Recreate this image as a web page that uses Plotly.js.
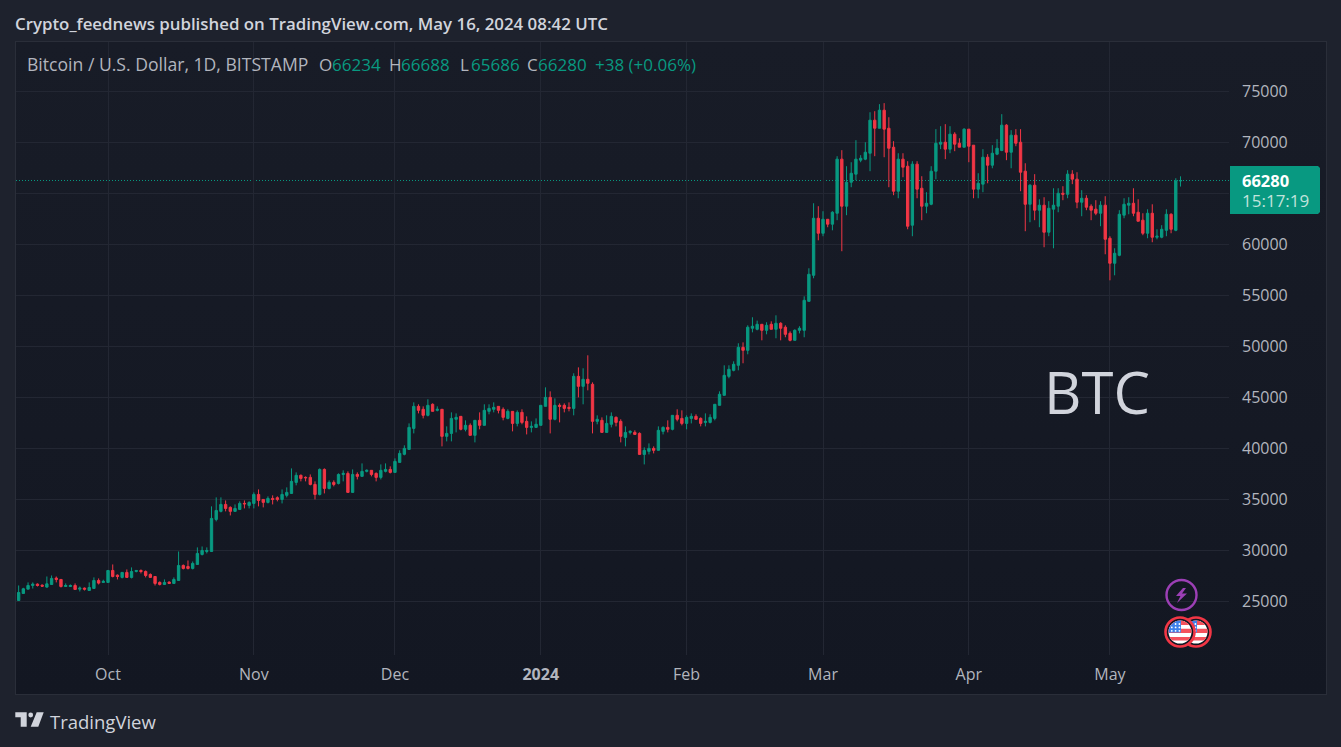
<!DOCTYPE html>
<html>
<head>
<meta charset="utf-8">
<script src="https://cdn.plot.ly/plotly-3.0.1.min.js"></script>
<style>
html,body{margin:0;padding:0;width:1341px;height:747px;overflow:hidden;background:#1e222d}
#pane{position:absolute;left:15px;top:41px;width:1310px;height:652px;border:1px solid #2a2e39;background:linear-gradient(180deg,#181c27 0%,#131722 100%)}
#chart{position:absolute;left:0;top:0;width:1341px;height:747px}
</style>
</head>
<body>
<div id="pane"></div>
<div id="chart"></div>
<script>
const dates = [
'2023-09-12','2023-09-13','2023-09-14','2023-09-15','2023-09-16','2023-09-17','2023-09-18','2023-09-19','2023-09-20','2023-09-21','2023-09-22','2023-09-23','2023-09-24','2023-09-25','2023-09-26','2023-09-27','2023-09-28','2023-09-29','2023-09-30',
'2023-10-01','2023-10-02','2023-10-03','2023-10-04','2023-10-05','2023-10-06','2023-10-07','2023-10-08','2023-10-09','2023-10-10','2023-10-11','2023-10-12','2023-10-13','2023-10-14','2023-10-15','2023-10-16','2023-10-17','2023-10-18','2023-10-19','2023-10-20','2023-10-21','2023-10-22','2023-10-23','2023-10-24','2023-10-25','2023-10-26','2023-10-27','2023-10-28','2023-10-29','2023-10-30','2023-10-31',
'2023-11-01','2023-11-02','2023-11-03','2023-11-04','2023-11-05','2023-11-06','2023-11-07','2023-11-08','2023-11-09','2023-11-10','2023-11-11','2023-11-12','2023-11-13','2023-11-14','2023-11-15','2023-11-16','2023-11-17','2023-11-18','2023-11-19','2023-11-20','2023-11-21','2023-11-22','2023-11-23','2023-11-24','2023-11-25','2023-11-26','2023-11-27','2023-11-28','2023-11-29','2023-11-30',
'2023-12-01','2023-12-02','2023-12-03','2023-12-04','2023-12-05','2023-12-06','2023-12-07','2023-12-08','2023-12-09','2023-12-10','2023-12-11','2023-12-12','2023-12-13','2023-12-14','2023-12-15','2023-12-16','2023-12-17','2023-12-18','2023-12-19','2023-12-20','2023-12-21','2023-12-22','2023-12-23','2023-12-24','2023-12-25','2023-12-26','2023-12-27','2023-12-28','2023-12-29','2023-12-30','2023-12-31',
'2024-01-01','2024-01-02','2024-01-03','2024-01-04','2024-01-05','2024-01-06','2024-01-07','2024-01-08','2024-01-09','2024-01-10','2024-01-11','2024-01-12','2024-01-13','2024-01-14','2024-01-15','2024-01-16','2024-01-17','2024-01-18','2024-01-19','2024-01-20','2024-01-21','2024-01-22','2024-01-23','2024-01-24','2024-01-25','2024-01-26','2024-01-27','2024-01-28','2024-01-29','2024-01-30','2024-01-31',
'2024-02-01','2024-02-02','2024-02-03','2024-02-04','2024-02-05','2024-02-06','2024-02-07','2024-02-08','2024-02-09','2024-02-10','2024-02-11','2024-02-12','2024-02-13','2024-02-14','2024-02-15','2024-02-16','2024-02-17','2024-02-18','2024-02-19','2024-02-20','2024-02-21','2024-02-22','2024-02-23','2024-02-24','2024-02-25','2024-02-26','2024-02-27','2024-02-28','2024-02-29',
'2024-03-01','2024-03-02','2024-03-03','2024-03-04','2024-03-05','2024-03-06','2024-03-07','2024-03-08','2024-03-09','2024-03-10','2024-03-11','2024-03-12','2024-03-13','2024-03-14','2024-03-15','2024-03-16','2024-03-17','2024-03-18','2024-03-19','2024-03-20','2024-03-21','2024-03-22','2024-03-23','2024-03-24','2024-03-25','2024-03-26','2024-03-27','2024-03-28','2024-03-29','2024-03-30','2024-03-31',
'2024-04-01','2024-04-02','2024-04-03','2024-04-04','2024-04-05','2024-04-06','2024-04-07','2024-04-08','2024-04-09','2024-04-10','2024-04-11','2024-04-12','2024-04-13','2024-04-14','2024-04-15','2024-04-16','2024-04-17','2024-04-18','2024-04-19','2024-04-20','2024-04-21','2024-04-22','2024-04-23','2024-04-24','2024-04-25','2024-04-26','2024-04-27','2024-04-28','2024-04-29','2024-04-30',
'2024-05-01','2024-05-02','2024-05-03','2024-05-04','2024-05-05','2024-05-06','2024-05-07','2024-05-08','2024-05-09','2024-05-10','2024-05-11','2024-05-12','2024-05-13','2024-05-14','2024-05-15','2024-05-16'];
const opens = [
25130,25820,26240,26600,26730,26630,26440,26700,27320,27190,26500,26500,26600,26240,26340,26110,26310,27090,26900,
26900,28070,27610,27390,27880,27390,27970,28070,27970,27680,27480,26900,26700,26930,26800,27090,28560,28460,28270,28660,29640,29930,29930,33070,33860,34540,34250,33860,34050,34640,34440,
34640,35520,35030,34740,35130,35200,35030,35430,35620,36700,37390,37190,37190,36500,35520,37970,36110,36700,36600,37480,37580,35720,37480,37290,37780,37880,37580,37190,37780,37970,
37680,38660,39450,39930,41990,44150,43860,43270,44350,43760,43860,41210,41500,42880,43170,41900,42290,41310,42780,42290,43660,43860,44150,43860,42970,43660,42480,43560,42680,42090,42090,
42290,44150,45030,42880,44250,44250,44050,43950,47090,46110,46800,46310,42680,42780,41600,42390,43070,42680,41110,41600,41600,41500,39440,39740,40030,39840,41700,42090,41900,43270,42970,
42480,42970,43170,42970,42580,42580,42970,44250,45230,47090,47680,48170,49930,49640,51800,51700,52190,51600,52190,51700,52290,51900,51310,50620,51600,51600,54440,56990,62580,
61110,62480,62000,63070,68370,63760,66110,66900,68270,68370,68950,72190,71400,73170,71400,69540,65230,68370,67680,61900,67880,65520,63760,63950,67190,69840,70030,69350,70820,69930,69540,
71310,69740,65430,65920,68560,67780,68860,69220,71700,69050,70720,70030,67190,63950,65820,63370,63860,61210,63470,63760,65030,64930,66900,66410,64150,64540,63760,63470,63070,63860,
60620,58170,58950,62880,63860,64050,63170,62390,61110,63070,60720,60720,61400,62970,61400,66234];
const highs = [
26600,26370,26900,26900,26800,26700,27480,27580,27480,27190,26800,26700,26800,26500,26400,26900,27390,27290,27160,
28070,28660,27680,27880,28170,28370,28070,28170,28070,27780,27480,27000,27190,27000,27390,29930,28660,29050,28950,30330,30420,30330,34350,35230,35230,34930,34350,34540,34840,34930,34840,
35720,36010,35030,35330,35430,35330,36010,36210,38070,37680,37480,37290,37480,36800,38070,38070,36900,36900,37580,37880,37780,37970,37680,38560,37970,37880,37680,38460,38560,38270,
39050,39840,40330,42480,44540,44350,44150,44840,44440,44150,43860,42190,43560,43460,43170,42780,42480,42780,43560,44350,44350,44540,44150,44050,43860,43660,43760,43860,43170,42680,42970,
44250,46010,45620,44930,44440,44440,44540,47390,47970,47880,49150,46500,43270,43070,43270,43560,43170,42880,42190,41800,41800,41600,40130,40520,40230,42190,42190,42780,43270,43860,43760,
43270,43460,43370,43070,43460,43370,44350,45620,48170,48170,48560,50330,50420,52090,52880,52550,52190,52390,52480,53070,52390,52090,51500,51700,52000,54930,57680,64050,63760,
63270,62480,63270,68660,69250,67680,68070,70230,68760,70030,72970,73070,73760,73860,72480,70130,68950,68950,68170,68170,68170,66700,65130,67680,71310,71600,71800,71600,71010,70420,71400,
71310,69740,66990,69350,68860,69740,70330,72780,71800,71210,71310,71310,67970,65920,66900,64440,64640,64250,65520,65520,65720,67290,67290,67090,65330,64840,63950,64350,64250,64740,
60820,59640,63370,64540,64640,65520,64440,63070,63460,63950,61500,61900,63460,63070,66500,66688];
const lows = [
25130,25820,26240,26300,26500,26470,26370,26670,26900,26400,26500,26500,26210,26010,26110,26110,26310,26700,26900,
26900,27390,27190,27290,27390,27290,27880,27780,27390,27390,26600,26600,26700,26800,26800,27090,28170,28170,28170,28660,29540,29740,29930,32880,33760,33860,33460,33860,34050,34150,34150,
34150,34350,34250,34640,34540,34840,34640,35230,35620,36410,36800,36800,36410,35030,35420,35620,36010,36310,36500,36800,35720,35720,36990,37290,37680,37290,36800,36990,37680,37580,
37680,38660,39350,39930,41500,43460,42970,43170,43660,43660,40230,40720,40720,41600,41800,41700,41310,40620,41900,42290,43370,43560,43460,42780,42880,41700,42190,42390,41400,41600,42090,
42290,44150,41500,42780,42580,43560,43660,43270,45030,44350,45720,41500,42390,41600,41600,42090,42190,40620,40230,41400,41400,39440,38460,39440,39540,39840,41400,41600,41800,42680,42290,
41900,42480,42880,42190,42190,42480,42780,44250,45230,46900,47580,47680,48370,49250,51400,51600,50620,51210,51700,50820,50620,50920,50520,50620,51300,50920,54440,56700,60420,
60820,61700,61400,62390,59350,62880,65620,66310,68070,68270,67190,68660,71400,68560,65620,64840,64540,66600,61500,60820,64540,62390,63070,63860,66400,69350,68370,68950,69150,69540,69540,
68070,64540,64540,65130,66010,67480,68760,69150,68270,67480,69640,65230,61310,62190,62390,61700,59740,60820,59640,63170,64350,64540,65920,63560,62780,63370,62390,62880,61800,59050,
56500,56990,58860,62580,62970,62780,62290,60920,60620,60230,60520,60620,60820,61110,61310,65686];
const closes = [
25915,26275,26600,26730,26600,26530,26760,27290,27190,26500,26600,26600,26210,26340,26240,26400,27090,26830,27000,
28070,27480,27480,27880,27390,27970,28070,27970,27580,27390,26800,26700,26900,26800,27190,28560,28270,28270,28760,29740,30030,30030,33170,33950,34540,34150,33860,34150,34640,34600,34740,
35520,34930,34740,35130,35030,35030,35520,35720,36800,37390,37090,37150,36500,35520,37970,36110,36700,36500,37480,37580,35720,37480,37290,37780,37880,37480,37190,37880,37970,37680,
38760,39540,40030,42090,44150,43760,43270,44250,43660,43860,41210,41500,42970,43070,41900,42290,41310,42780,42290,43760,43950,44050,43760,43070,43660,42480,43560,42580,42090,42190,42390,
44250,45030,42880,44250,44150,43950,43950,47090,46110,46800,46410,42680,42880,41600,42480,43170,42580,41210,41600,41700,41400,39440,39840,40030,39840,41800,42090,41900,43270,42880,42480,
43070,43170,42880,42480,42680,43070,44350,45330,47190,47780,48270,49930,49640,51900,52000,52190,51600,52090,51700,52290,51800,51210,50620,51600,51800,54540,57090,62580,61110,
62480,62000,63170,68370,63760,66110,66990,68370,68460,69050,72190,71400,73170,71310,69440,65230,68370,67580,61800,67880,65430,63760,64050,67190,69930,70030,69350,70820,69840,69540,71310,
69640,65430,66010,68560,67780,68950,69440,71700,69050,70720,69930,67090,63950,65820,63370,63860,61210,63560,63860,65030,64930,66900,66410,64150,64540,63660,63370,63070,63860,60520,
58170,59150,62970,63950,64050,63070,62290,61110,63070,60720,60820,61500,62970,61500,66242,66280];

const priceTicks = [25000,30000,35000,40000,45000,50000,55000,60000,65000,70000,75000];
const priceLabels = ['25000','30000','35000','40000','45000','50000','55000','60000','','70000','75000'];
const timeTicks = ['2023-10-01','2023-11-01','2023-12-01','2024-01-01','2024-02-01','2024-03-01','2024-04-01','2024-05-01'];
const timeLabels = ['Oct','Nov','Dec','<b>2024</b>','Feb','Mar','Apr','May'];

const UP = '#089981', DOWN = '#f23645', TXT = '#b2b5be', FONT = '"Open Sans", sans-serif';
const W = 1341, H = 747, L = 16, R = 1229, T = 42, B = 655;
const fx = p => (p - L) / (R - L), fy = p => (B - p) / (B - T);

const anns = [];
function label(x, y, text, color, size, weight) {
  anns.push({xref:'paper', yref:'paper', x:fx(x), y:fy(y), xanchor:'left', yanchor:'middle',
    showarrow:false, align:'left', text:text, borderpad:0, borderwidth:0,
    font:{family:FONT, size:size, color:color, weight:weight || 400}});
}
const last = closes.length - 1;
label(15, 23, 'Crypto_feednews published on TradingView.com, May 16, 2024 08:42 UTC', '#d1d4dc', 16.85, 600);
label(27, 64, 'Bitcoin / U.S. Dollar, 1D, BITSTAMP', TXT, 17.6);
label(319, 64, 'O', TXT, 17); label(332, 64, String(opens[last]), UP, 17);
label(389, 64, 'H', TXT, 17); label(401, 64, String(highs[last]), UP, 17);
label(460, 64, 'L', TXT, 17); label(471, 64, String(lows[last]), UP, 17);
label(527, 64, 'C', TXT, 17); label(538, 64, String(closes[last]), UP, 17);
label(595, 64, '+38 (+0.06%)', UP, 17);
label(1044, 391, 'BTC', '#d1d4dc', 58);
label(1242, 180, String(closes[last]), '#ffffff', 16.5, 700);
label(1242, 201, '15:17:19', '#c0e3dc', 17);
label(50, 721, 'TradingView', '#d1d4dc', 18.5);

function poly(pts) {
  return 'M' + pts.map(p => fx(p[0]).toFixed(6) + ',' + fy(p[1]).toFixed(6)).join('L') + 'Z';
}
function pshape(pts, fill) {
  return {type:'path', xref:'paper', yref:'paper', path:poly(pts), fillcolor:fill, line:{width:0}, layer:'above'};
}
function disc(cx, cy, r, fill, lineColor, lw) {
  return {type:'circle', xref:'paper', yref:'paper', x0:fx(cx-r), x1:fx(cx+r), y0:fy(cy-r), y1:fy(cy+r),
    fillcolor:fill, line:{color:lineColor||fill, width:lw||0}, layer:'above'};
}
function band(cx, cy, r, dy0, dy1) {
  const top = [], bot = [];
  for (let i = 0; i <= 8; i++) {
    const dy = dy0 + (dy1 - dy0) * i / 8, dx = Math.sqrt(Math.max(0, r*r - dy*dy));
    top.push([cx - dx, cy + dy]); bot.unshift([cx + dx, cy + dy]);
  }
  return top.concat(bot);
}
function flag(cx, cy) {
  const s = [disc(cx, cy, 14.5, '#131722', '#f23645', 2.6), disc(cx, cy, 11.5, '#ffffff')];
  [[-11.5,-7],[-3.2,1],[5,8.6]].forEach(b => s.push(pshape(band(cx, cy, 11.5, b[0], b[1]), '#f4515c')));
  s.push(pshape([[cx-11.4,cy+0.5],[cx-11,cy-3],[cx-9.6,cy-6.2],[cx-7,cy-9],[cx-3.5,cy-10.9],[cx+1,cy-11.4],[cx+1,cy+0.5]], '#3f82ea'));
  for (let i = 0; i < 3; i++) for (let j = 0; j < 3; j++) {
    if (i === 0 && j === 0) continue;
    s.push(disc(cx - 8.2 + i*3.8, cy - 8 + j*3.4, 0.9, '#ffffff'));
  }
  return s;
}

const shapes = [
  {type:'line', xref:'paper', yref:'y', x0:0, x1:1, y0:closes[last], y1:closes[last],
   line:{color:UP, width:1, dash:'1px,2px'}, layer:'below'},
  {type:'path', xref:'paper', yref:'paper', path:poly([[1230,166],[1318,166],[1320,168],[1320,212],[1318,214],[1230,214]]),
   fillcolor:UP, line:{width:0}, layer:'above'},
  disc(1181.5, 595, 15, 'rgba(0,0,0,0)', '#9c3fb5', 2.4),
  pshape([[1183,588],[1176,596],[1180.5,596],[1177,603],[1187,593.5],[1182,593.5],[1186,588]], '#9c3fb5')
].concat(flag(1196, 632), flag(1180, 632), [
  pshape([[15.3,712.3],[26.7,712.3],[26.7,726.7],[20.7,726.7],[20.7,717.3],[15.3,717.3]], '#d1d4dc'),
  disc(30.7, 715, 2.4, '#d1d4dc'),
  pshape([[36.7,712.3],[43.7,712.3],[38.3,726.7],[30.7,726.7]], '#d1d4dc')
]);

const trace = {
  type:'candlestick', x:dates, open:opens, high:highs, low:lows, close:closes,
  increasing:{line:{color:UP, width:1}, fillcolor:UP},
  decreasing:{line:{color:DOWN, width:1}, fillcolor:DOWN},
  whiskerwidth:0, hoverinfo:'skip', showlegend:false
};
const layout = {
  width:W, height:H, margin:{l:L, r:W-R, t:T, b:H-B, pad:0},
  paper_bgcolor:'rgba(0,0,0,0)', plot_bgcolor:'rgba(0,0,0,0)',
  showlegend:false, dragmode:false, boxgap:0.5, boxgroupgap:0,
  xaxis:{type:'date', range:['2023-09-11 10:30','2024-05-26 07:30'], rangeslider:{visible:false},
    tickmode:'array', tickvals:timeTicks, ticktext:timeLabels, ticklen:0, showline:false, zeroline:false,
    gridcolor:'#232733', gridwidth:1, ticklabelstandoff:8, tickfont:{family:FONT, size:16, color:TXT}},
  yaxis:{side:'right', range:[19787,79850], tickmode:'array', tickvals:priceTicks, ticktext:priceLabels,
    ticklen:0, showline:false, zeroline:false, gridcolor:'#232733', gridwidth:1, ticklabelstandoff:12,
    tickfont:{family:FONT, size:16, color:TXT}},
  shapes:shapes, annotations:anns
};
Plotly.newPlot('chart', [trace], layout, {staticPlot:true, displayModeBar:false});
</script>
</body>
</html>
